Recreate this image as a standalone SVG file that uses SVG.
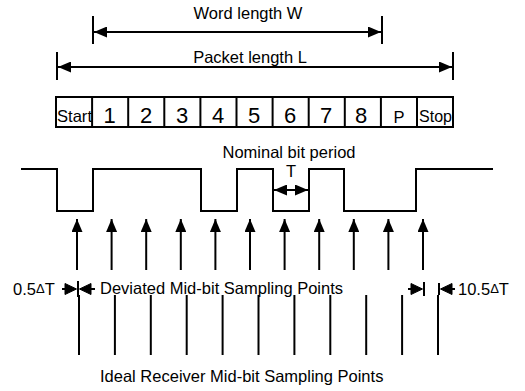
<svg xmlns="http://www.w3.org/2000/svg" width="525" height="391" viewBox="0 0 525 391">
<style>
text{font-family:"Liberation Sans",Arial,Helvetica,sans-serif;fill:#000}
.lbl{font-size:16.5px}
.dig{font-size:22px;text-anchor:middle}
.ln{stroke:#000;stroke-width:2;fill:none}
.box{stroke:#000;stroke-width:2;fill:#fff}
.hd{fill:#000;stroke:#000;stroke-width:1;stroke-linejoin:miter}
</style>
<defs>
<marker id="ah" markerUnits="userSpaceOnUse" markerWidth="13" markerHeight="11" refX="13" refY="5.5" orient="auto-start-reverse" viewBox="0 0 13 11">
<path d="M0,0 L13,5.5 L0,11 z" fill="#000"/>
</marker>
</defs>

<g id="word-length">
<line class="ln" x1="93" y1="16" x2="93" y2="44"/>
<line class="ln" x1="382" y1="16" x2="382" y2="44"/>
<line class="ln" x1="94" y1="32" x2="381" y2="32" marker-start="url(#ah)" marker-end="url(#ah)"/>
<text class="lbl" x="248" y="19" text-anchor="middle">Word length W</text>
</g>

<g id="packet-length">
<line class="ln" x1="57" y1="52" x2="57" y2="80"/>
<line class="ln" x1="453" y1="52" x2="453" y2="80"/>
<line class="ln" x1="58" y1="67" x2="452" y2="67" marker-start="url(#ah)" marker-end="url(#ah)"/>
<text class="lbl" x="250" y="63" text-anchor="middle">Packet length L</text>
</g>

<g id="packet">
<rect class="box" x="56" y="97" width="397" height="30"/>
<g class="ln">
<line x1="92.1" y1="97" x2="92.1" y2="127"/>
<line x1="128.2" y1="97" x2="128.2" y2="127"/>
<line x1="164.3" y1="97" x2="164.3" y2="127"/>
<line x1="200.4" y1="97" x2="200.4" y2="127"/>
<line x1="236.5" y1="97" x2="236.5" y2="127"/>
<line x1="272.6" y1="97" x2="272.6" y2="127"/>
<line x1="308.7" y1="97" x2="308.7" y2="127"/>
<line x1="344.8" y1="97" x2="344.8" y2="127"/>
<line x1="380.9" y1="97" x2="380.9" y2="127"/>
<line x1="417" y1="97" x2="417" y2="127"/>
</g>
<text class="lbl" x="57" y="122" font-size="17px" textLength="35" lengthAdjust="spacingAndGlyphs">Start</text>
<text class="dig" x="109.5" y="123">1</text>
<text class="dig" x="146" y="123">2</text>
<text class="dig" x="182" y="123">3</text>
<text class="dig" x="218" y="123">4</text>
<text class="dig" x="254" y="123">5</text>
<text class="dig" x="290" y="123">6</text>
<text class="dig" x="326" y="123">7</text>
<text class="dig" x="361" y="123">8</text>
<text class="lbl" x="399" y="123" text-anchor="middle">P</text>
<text class="lbl" x="419" y="122" textLength="33" lengthAdjust="spacingAndGlyphs">Stop</text>
</g>

<g id="waveform">
<polyline class="ln" points="21,169 57,169 57,211 93,211 93,169 201,169 201,211 237,211 237,169 273,169 273,211 309,211 309,169 344,169 344,211 416,211 416,169 493,169"/>
<text class="lbl" x="289" y="158" text-anchor="middle">Nominal bit period</text>
<text class="lbl" x="291" y="177" text-anchor="middle">T</text>
<line class="ln" x1="274" y1="190" x2="308" y2="190" marker-start="url(#ah)" marker-end="url(#ah)"/>
</g>

<g id="deviated-sampling" class="ln">
<line x1="77" y1="270" x2="77" y2="219" marker-end="url(#ah)"/>
<line x1="111.6" y1="270" x2="111.6" y2="219" marker-end="url(#ah)"/>
<line x1="146.2" y1="270" x2="146.2" y2="219" marker-end="url(#ah)"/>
<line x1="180.8" y1="270" x2="180.8" y2="219" marker-end="url(#ah)"/>
<line x1="215.4" y1="270" x2="215.4" y2="219" marker-end="url(#ah)"/>
<line x1="250" y1="270" x2="250" y2="219" marker-end="url(#ah)"/>
<line x1="284.6" y1="270" x2="284.6" y2="219" marker-end="url(#ah)"/>
<line x1="319.2" y1="270" x2="319.2" y2="219" marker-end="url(#ah)"/>
<line x1="353.8" y1="270" x2="353.8" y2="219" marker-end="url(#ah)"/>
<line x1="388.4" y1="270" x2="388.4" y2="219" marker-end="url(#ah)"/>
<line x1="423" y1="270" x2="423" y2="219" marker-end="url(#ah)"/>
</g>

<g id="ideal-sampling" class="ln">
<line x1="79" y1="295" x2="79" y2="355"/>
<line x1="114.9" y1="295" x2="114.9" y2="355"/>
<line x1="150.8" y1="295" x2="150.8" y2="355"/>
<line x1="186.7" y1="295" x2="186.7" y2="355"/>
<line x1="222.6" y1="295" x2="222.6" y2="355"/>
<line x1="258.5" y1="295" x2="258.5" y2="355"/>
<line x1="294.4" y1="295" x2="294.4" y2="355"/>
<line x1="330.3" y1="295" x2="330.3" y2="355"/>
<line x1="366.2" y1="295" x2="366.2" y2="355"/>
<line x1="402.1" y1="295" x2="402.1" y2="355"/>
<line x1="438" y1="295" x2="438" y2="355"/>
</g>

<g id="offset-start">
<text class="lbl" x="13" y="295">0.5<tspan font-size="13px" dy="-2">Δ</tspan><tspan dy="2">T</tspan></text>
<line class="ln" x1="62" y1="289" x2="67" y2="289"/>
<polygon class="hd" points="65,283.5 76.5,289 65,294.5"/>
<line class="ln" x1="78" y1="281" x2="78" y2="297"/>
<polygon class="hd" points="91,283.5 79.5,289 91,294.5"/>
<line class="ln" x1="89" y1="289" x2="95" y2="289"/>
</g>

<g id="offset-end">
<line class="ln" x1="408" y1="289" x2="413" y2="289"/>
<polygon class="hd" points="411,283.5 422.5,289 411,294.5"/>
<line class="ln" x1="424" y1="282" x2="424" y2="296"/>
<line class="ln" x1="439" y1="283" x2="439" y2="295"/>
<polygon class="hd" points="452,283.5 440.5,289 452,294.5"/>
<line class="ln" x1="450" y1="289" x2="455" y2="289"/>
<text class="lbl" x="458" y="295">10.5<tspan font-size="13px" dy="-2">Δ</tspan><tspan dy="2">T</tspan></text>
</g>

<text class="lbl" x="100" y="294">Deviated Mid-bit Sampling Points</text>
<text class="lbl" x="100" y="382">Ideal Receiver Mid-bit Sampling Points</text>
</svg>
